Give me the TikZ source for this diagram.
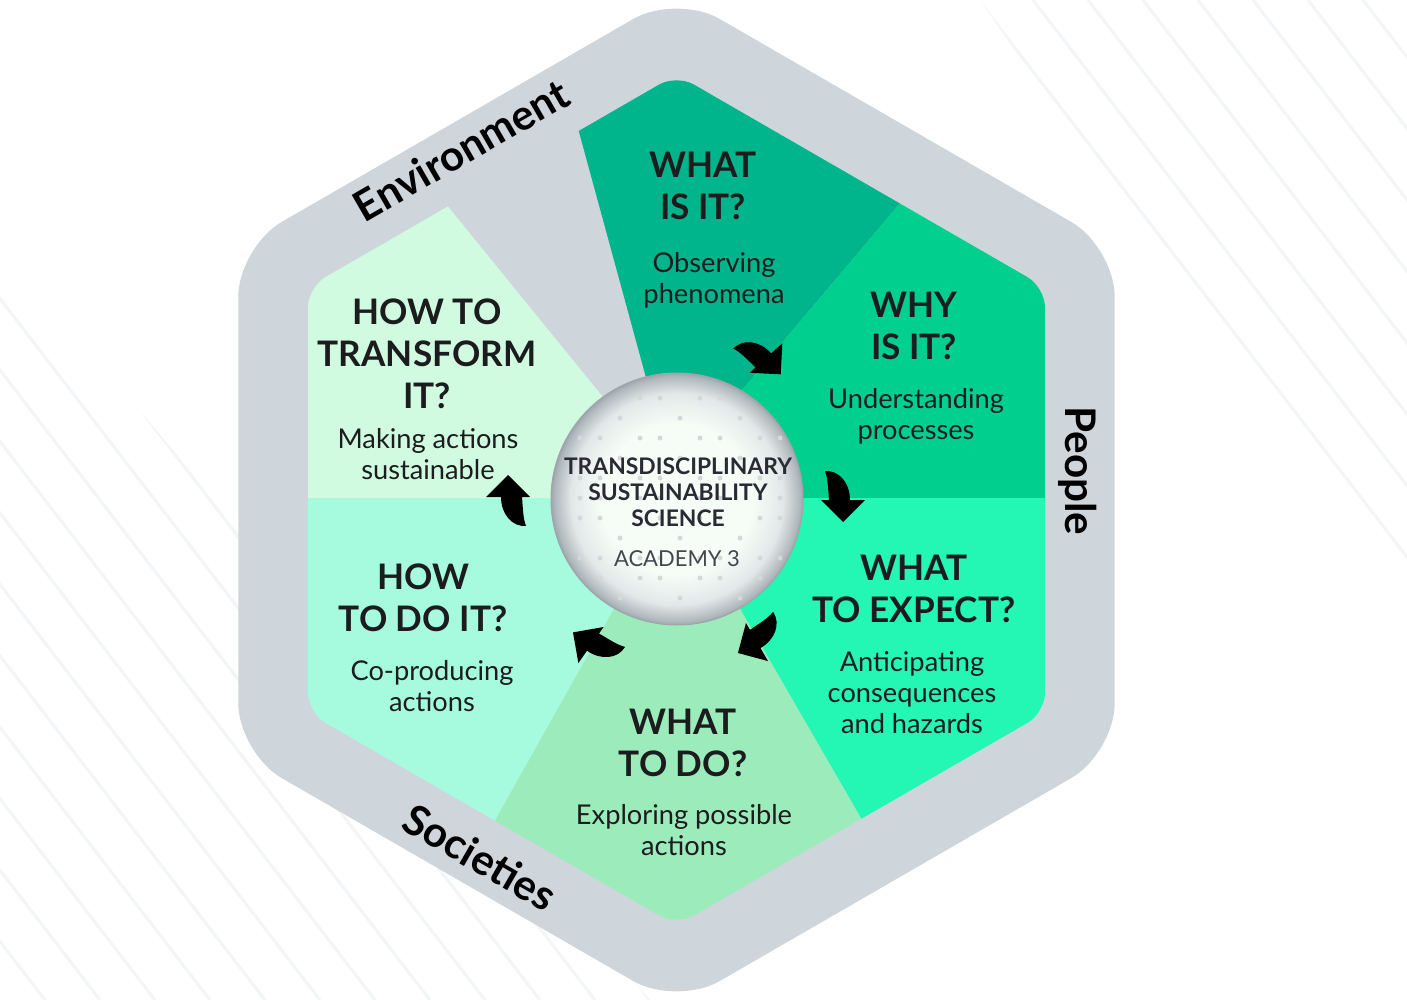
\documentclass[tikz,border=0pt]{standalone}
\usepackage{fontspec}
\setmainfont{Lato}
\definecolor{band}{RGB}{207,214,219}
\definecolor{whatis}{RGB}{0,180,140}
\definecolor{whyis}{RGB}{0,207,142}
\definecolor{expect}{RGB}{36,246,180}
\definecolor{todo}{RGB}{155,236,186}
\definecolor{howdo}{RGB}{166,250,222}
\definecolor{transform}{RGB}{209,251,224}
\definecolor{ink}{RGB}{28,28,30}
\definecolor{coreink}{RGB}{42,42,52}
\definecolor{academy}{RGB}{70,70,80}
\definecolor{rim}{RGB}{158,166,172}
\definecolor{ballmid}{RGB}{246,253,247}
\definecolor{ballsoft}{RGB}{226,232,232}
\definecolor{balledge}{RGB}{176,184,188}
\definecolor{dotgray}{RGB}{212,216,216}
\definecolor{stripe}{RGB}{243,245,246}
\pgfdeclareradialshading{ballshade}{\pgfpoint{0bp}{0bp}}{color(0bp)=(ballmid); color(15bp)=(ballmid); color(21bp)=(ballsoft); color(24.3bp)=(balledge); color(25bp)=(rim); color(50bp)=(rim)}

\begin{document}
\begin{tikzpicture}[x=0.2mm, y=-0.2mm,
	head/.style={font=\fontsize{20}{24}\selectfont\bfseries, text=ink, align=center, inner sep=0pt, anchor=north},
	sub/.style={font=\fontsize{15.5}{17.8}\selectfont, text=ink, align=center, inner sep=0pt, anchor=north},
	core/.style={font=\fontsize{13}{15}\selectfont\bfseries, text=coreink, align=center, inner sep=0pt, anchor=north},
	bandlabel/.style={font=\fontsize{24}{28}\selectfont\bfseries, text=black, inner sep=0pt},
	bentarrow/.pic={
		\fill[black] (-14,0) .. controls (-15,-12) and (-15,-21) .. (-18,-29) .. controls (-4,-30) and (7,-17) .. (7,0) -- (22,0) -- (0,22) -- (-22,0) -- cycle;
	}]
	\useasboundingbox (0,0) rectangle (1407,1000);
	\fill[white] (0,0) rectangle (1407,1000);
	% faint stripes in two corners
	\begin{scope}
		\clip (980,0) -- (1407,0) -- (1407,620) -- cycle;
		\foreach \k in {0,...,9}
			\draw[stripe, line width=0.6mm] (978+55*\k,0) -- ++(770,1000);
	\end{scope}
	\begin{scope}
		\clip (0,250) -- (0,1000) -- (650,1000) -- cycle;
		\foreach \k in {1,...,19}
			\draw[stripe, line width=0.6mm] (-1000+55*\k,0) -- ++(770,1000);
	\end{scope}
	% outer band
	\fill[band, shift={(676.5,500)}, rounded corners=10mm] (0:438.2) -- (30:506) -- (90:506) -- (150:506) -- (210:506) -- (270:506) -- (330:506) -- cycle;
	% six fields
	\begin{scope}
		\clip[shift={(676.5,500)}, rounded corners=4mm] (0:368.5) -- (30:425.5) -- (90:425.5) -- (150:425.5) -- (210:425.5) -- (270:425.5) -- (330:425.5) -- cycle;
		\fill[whatis] (672,473) -- (543,0) -- (1072,0) -- cycle;
		\fill[whyis] (672,473) -- (1072,0) -- (1300,0) -- (1300,498) -- (676,498) -- cycle;
		\fill[expect] (676,498) -- (1300,498) -- (1300,1000) -- (966,1000) -- cycle;
		\fill[todo] (676,498) -- (966,1000) -- (394,1000) -- cycle;
		\fill[howdo] (676,498) -- (394,1000) -- (100,1000) -- (100,498) -- cycle;
		\fill[transform] (685,498) -- (100,498) -- (100,0) -- (280,0) -- cycle;
	\end{scope}
	% centre disc
	\path[shading=ballshade] (677,499) circle[radius=25.2mm];
	\begin{scope}
		\clip (677,499) circle[radius=24.6mm];
		\foreach \j in {0,...,10}{
			\foreach \i in {0,...,10}{
				\pgfmathtruncatemacro{\rowb}{(\j==1)||(\j==3)||(\j==7)||(\j==10)}
				\pgfmathtruncatemacro{\col}{mod(\i,3)==2}
				\ifnum\rowb=\col
					\fill[dotgray] (580+20*\i,398+20*\j) circle[radius=0.5mm];
				\fi
			}
		}
	\end{scope}
	\draw[rim, line width=0.2mm] (677,499) circle[radius=25.2mm];
	\node[core] (tss) at (678,457) {TRANSDISCIPLINARY\\SUSTAINABILITY\\SCIENCE};
	\node[font=\fontsize{12.5}{15}\selectfont, text=academy, inner sep=0pt, anchor=north] (aca) at (677,550) {ACADEMY 3};
	% questions
	\node[head] (q1) at (703,152) {WHAT\\IS IT?};
	\node[sub] (s1) at (714,252) {Observing\\phenomena};
	\node[head] (q2) at (914,292) {WHY\\IS IT?};
	\node[sub] (s2) at (916,388) {Understanding\\processes};
	\node[head] (q3) at (914,555) {WHAT\\TO EXPECT?};
	\node[sub] (s3) at (912,651) {Anticipating\\consequences\\and hazards};
	\node[head] (q4) at (683,709) {WHAT\\TO DO?};
	\node[sub] (s4) at (684,804) {Exploring possible\\actions};
	\node[head] (q5) at (423,563) {HOW\\TO DO IT?};
	\node[sub] (s5) at (432,660) {Co-producing\\actions};
	\node[head] (q6) at (427,298) {HOW TO\\TRANSFORM\\IT?};
	\node[sub] (s6) at (428,428) {Making actions\\sustainable};
	% turning arrows
	\pic[rotate=42] (a1) at (766,358) {bentarrow};
	\pic (a2) at (843,500) {bentarrow};
	\pic[rotate=-60] (a3) at (757,642) {bentarrow};
	\pic[rotate=-125] (a4) at (591,645) {bentarrow};
	\pic[rotate=180] (a5) at (508,497) {bentarrow};
	% band labels
	\node[bandlabel, rotate=30] (env) at (461,150) {Environment};
	\node[bandlabel, rotate=-90] (ppl) at (1078,471) {People};
	\node[bandlabel, rotate=-30] (soc) at (480,857) {Societies};
\end{tikzpicture}
\end{document}
